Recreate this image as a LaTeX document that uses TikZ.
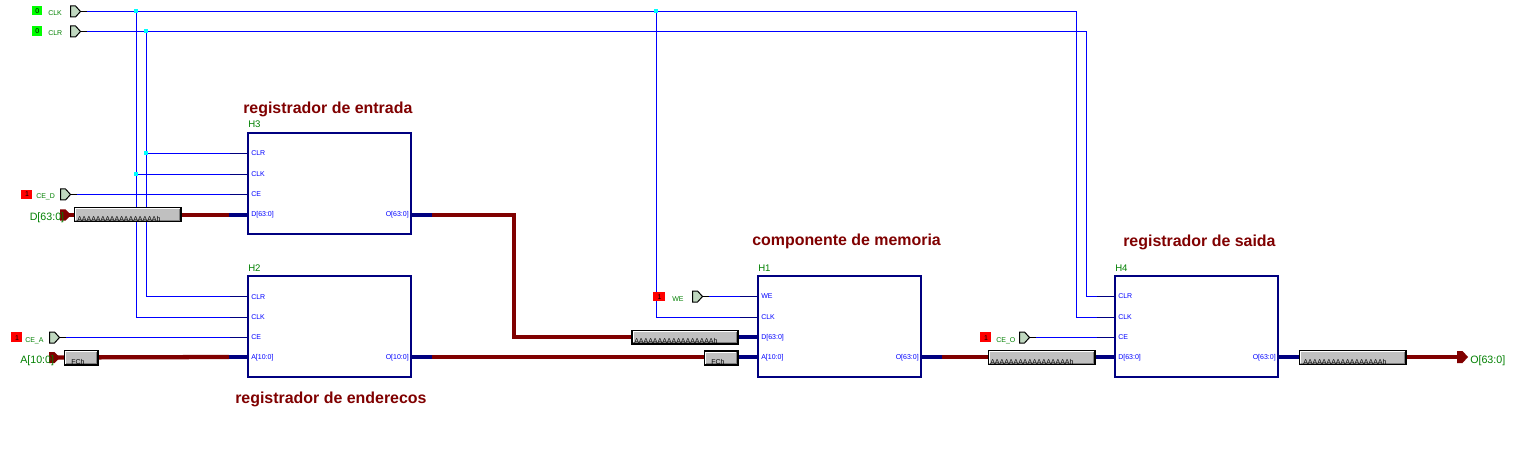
\documentclass[tikz,border=0pt]{standalone}
\usepackage{fontspec}
\setmainfont{Liberation Sans}
\definecolor{busred}{RGB}{128,0,0}
\definecolor{busnavy}{RGB}{0,0,128}
\definecolor{netblue}{RGB}{0,0,255}
\definecolor{pinfill}{RGB}{192,216,192}
\definecolor{labgreen}{RGB}{0,128,0}
\definecolor{jun}{RGB}{0,255,255}
\definecolor{low}{RGB}{0,255,0}
\definecolor{high}{RGB}{255,0,0}
\definecolor{convgray}{RGB}{192,192,192}
\tikzset{
  block/.style={draw=busnavy,line width=1.5pt,inner sep=0pt,outer sep=0pt,minimum width=122.25pt,minimum height=75.75pt,anchor=north west},
  conv/.style={draw=black,line width=.8pt,fill=convgray,inner sep=0pt,outer sep=0pt,anchor=north west},
  pixelgrid/.style={transform canvas={shift={(.375pt,-.375pt)}}},
  net/.style={draw=netblue,line width=.75pt,pixelgrid},
  netstub/.style={draw=busnavy,line width=.75pt,pixelgrid},
  pinstub/.style={draw=black,line width=.75pt,pixelgrid},
  busr/.style={draw=busred,line width=3.2pt},
  busn/.style={draw=busnavy,line width=3.2pt},
  heading/.style={text=busred,font=\fontsize{11.95}{14}\selectfont\bfseries,anchor=base west,inner sep=0pt},
  blockname/.style={text=labgreen,font=\fontsize{7.2}{8}\selectfont,anchor=base west,inner sep=0pt},
  portlab/.style={text=netblue,font=\fontsize{5.25}{6}\selectfont,anchor=base west,inner sep=0pt},
  portlabr/.style={text=netblue,font=\fontsize{5.25}{6}\selectfont,anchor=base east,inner sep=0pt},
  siglab/.style={text=labgreen,font=\fontsize{5.25}{6}\selectfont,anchor=base west,inner sep=0pt},
  buslab/.style={text=labgreen,font=\fontsize{8}{9}\selectfont,anchor=base west,inner sep=0pt},
  val/.style={font=\fontsize{5.25}{6}\selectfont,text=black,inner sep=0pt,anchor=base},
  convtxt/.style={font=\fontsize{5.25}{6}\selectfont,text=black,anchor=base west,inner sep=0pt},
  junction/.style={fill=jun,inner sep=0pt,outer sep=0pt,minimum size=3pt,draw=none},
  sw/.style={inner sep=0pt,outer sep=0pt,draw=none,anchor=north west},
}
% input pin: name, left x, y
\newcommand{\inpin}[3]{%
  \coordinate (#1) at (#2+10,#3);
  \coordinate (#1s) at (#2+16,#3);
  \draw[pinstub] (#1) -- (#1s);
  \filldraw[draw=black,fill=pinfill,line width=.75pt] (#2+.5,#3-5) -- ++(5,0) -- ++(5,5.5) -- ++(-5,5.5) -- ++(-5,0) -- cycle;}
% bus pin: name, left x, y
\newcommand{\buspin}[3]{%
  \fill[busred] (#2,#3-5.5) -- ++(5.5,0) -- ++(5.5,5.5) -- ++(-5.5,5.5) -- ++(-5.5,0) -- cycle;
  \coordinate (#1) at (#2+5,#3);}
% switch box: name, x, y, w, h, colour, value
\newcommand{\swbox}[7]{%
  \node[sw,fill=#6,minimum width=#4*.75pt,minimum height=#5*.75pt] (#1) at (#2,#3) {};
  \node[val] (#1v) at (#2+#4*.55,#3+#5-2) {#7};}
% converter: name, x, y, w, h, text x, text base y, text
\newcommand{\convbox}[8]{%
  \node[conv,minimum width=#4*.75pt-.75pt,minimum height=#5*.75pt-.75pt] (#1) at (#2+.5,#3+.5) {};
  \draw[white,line width=.5pt] (#2+1.8,#3+#5-1.8) -- (#2+1.8,#3+1.8) -- (#2+#4-1.8,#3+1.8);
  \draw[gray,line width=.5pt] (#2+1.8,#3+#5-1.8) -- (#2+#4-1.8,#3+#5-1.8) -- (#2+#4-1.8,#3+1.8);
  \node[convtxt] (#1t) at (#6,#7) {#8};}
\begin{document}
\begin{tikzpicture}[x=.75pt,y=-.75pt]
\useasboundingbox (0,0) rectangle (1524,449);
\fill[white] (0,0) rectangle (1524,449);
\def\AAA{AAAAAAAAAAAAAAAAAh}

% block ports
\foreach \n/\y/\d/\t in {a/153/3/CLR,b/174/2/CLK,c/194/2/CE,d/215/2/D[63:0]}{
  \coordinate (H3\n) at (248,\y);
  \coordinate (H3\n s) at (229,\y);
  \node[portlab] (H3l\n) at (251,\y+\d) {\t};}
\foreach \n/\y/\d/\t in {a/296/3/CLR,b/317/2/CLK,c/337/2/CE,d/357/2/A[10:0]}{
  \coordinate (H2\n) at (248,\y);
  \coordinate (H2\n s) at (229,\y);
  \node[portlab] (H2l\n) at (251,\y+\d) {\t};}
\foreach \n/\y/\d/\t in {a/296/2/WE,b/317/2/CLK,c/337/2/D[63:0],d/357/2/A[10:0]}{
  \coordinate (H1\n) at (758,\y);
  \coordinate (H1\n s) at (739,\y);
  \node[portlab] (H1l\n) at (761,\y+\d) {\t};}
\foreach \n/\y/\d/\t in {a/296/2/CLR,b/317/2/CLK,c/337/2/CE,d/357/2/D[63:0]}{
  \coordinate (H4\n) at (1115,\y);
  \coordinate (H4\n s) at (1096,\y);
  \node[portlab] (H4l\n) at (1118,\y+\d) {\t};}
\node[portlabr] (H3o) at (409,217) {O[63:0]};
\node[portlabr] (H2o) at (409,359) {O[10:0]};
\node[portlabr] (H1o) at (919,359) {O[63:0]};
\node[portlabr] (H4o) at (1276,359) {O[63:0]};
\coordinate (H3out) at (411,215);
\coordinate (H2out) at (411,357);
\coordinate (H1out) at (921,357);
\coordinate (H4out) at (1278,357);
\coordinate (H3outs) at (432,215);
\coordinate (H2outs) at (432,357);
\coordinate (H1outs) at (942,357);
\coordinate (H4outs) at (1299,357);

% pins (their wires start here)
\inpin{pclk}{70}{11}
\inpin{pclr}{70}{31}
\inpin{pced}{60}{194}
\inpin{pcea}{49}{337}
\inpin{pwe}{692}{296}
\inpin{pceo}{1019}{337}

% junction points
\coordinate (wclk1) at (136,11);
\coordinate (wclr1) at (146,31);
\coordinate (wclk2) at (656,11);
\coordinate (wclr3) at (146,153);
\coordinate (wclk3) at (136,174);
\coordinate (rclk) at (1076,11);
\coordinate (rclr) at (1086,31);

% thin nets
\draw[net] (pclks) -- (wclk1) -- (wclk2) -- (rclk) |- (H4bs);
\draw[net] (pclrs) -- (wclr1) -- (rclr) |- (H4as);
\draw[net] (wclk1) |- (H2bs);
\draw[net] (wclr1) |- (H2as);
\draw[net] (wclr3) -- (H3as);
\draw[net] (wclk3) -- (H3bs);
\draw[net] (pceds) -- (H3cs);
\draw[net] (pceas) -- (H2cs);
\draw[net] (pwes) -- (H1as);
\draw[net] (pceos) -- (H4cs);
\draw[net] (wclk2) |- (H1bs);
\foreach \n in {H3a,H3b,H3c,H2a,H2b,H2c,H1a,H1b,H4a,H4b,H4c}{
  \draw[netstub] (\n s) -- (\n);}
\node[junction] (jclk1) at (wclk1) {};
\node[junction] (jclr1) at (wclr1) {};
\node[junction] (jclk2) at (wclk2) {};
\node[junction] (jclr3) at (wclr3) {};
\node[junction] (jclk3) at (wclk3) {};

% bus pins
\buspin{pd}{60}{215}
\buspin{pa}{49}{357.5}
\coordinate (po) at (1457,357);

% buses
\coordinate (bend1) at (514,215);
\coordinate (bend2) at (514,337);
\draw[busr] (pd) -- (H3ds);
\draw[busr] (pa) -- (H2ds);
\draw[busr] (H3outs) -- (bend1) -- (bend2) -- (H1cs);
\draw[busr] (H2outs) -- (H1ds);
\draw[busr] (H1outs) -- (H4ds);
\draw[busr] (H4outs) -- (po);
\foreach \n in {H3d,H2d,H1c,H1d,H4d}{\draw[busn] (\n s) -- (\n);}
\foreach \n in {H3,H2,H1,H4}{\draw[busn] (\n out) -- (\n outs);}
\fill[busred] (1457,351) -- ++(5.5,0) -- ++(5.5,6) -- ++(-5.5,6) -- ++(-5.5,0) -- cycle;

% converters
\convbox{cd}{74}{207}{107.5}{15}{77}{221}{\AAA}
\convbox{ca}{64}{350}{34.5}{15.5}{71}{364}{FCh}
\convbox{cm}{631.5}{330}{107}{14.5}{634}{343.5}{\AAA}
\convbox{cf}{704}{350.5}{34.5}{15}{711}{364}{FCh}
\convbox{cq}{988}{350}{107.5}{15}{990}{364}{\AAA}
\convbox{cr}{1299}{350}{107.5}{15}{1303}{364}{\AAA}

% blocks
\node[block] (H3) at (248,133) {};
\node[block] (H2) at (248,276) {};
\node[block] (H1) at (758,276) {};
\node[block] (H4) at (1115,276) {};
\node[blockname] (nH3) at (248,128) {H3};
\node[blockname] (nH2) at (248,271) {H2};
\node[blockname] (nH1) at (758,271) {H1};
\node[blockname] (nH4) at (1115,271) {H4};

% value boxes
\swbox{v1}{31.5}{6}{10.5}{9.5}{low}{0}
\swbox{v2}{31.5}{26}{10.5}{10}{low}{0}
\swbox{v3}{21}{190}{11}{9}{high}{1}
\swbox{v4}{11}{332}{11}{10}{high}{1}
\swbox{v5}{653}{292}{12}{9}{high}{1}
\swbox{v6}{980}{332}{11}{10}{high}{1}

% signal labels
\node[siglab] (lclk) at (48,16) {CLK};
\node[siglab] (lclr) at (48,36) {CLR};
\node[siglab] (lced) at (36,199) {CE\_D};
\node[siglab] (lcea) at (25,342) {CE\_A};
\node[siglab] (lwe) at (672,301) {WE};
\node[siglab] (lceo) at (996,342) {CE\_O};
\node[buslab] (ld) at (29.5,220) {D[63:0]};
\node[buslab] (la) at (20,363) {A[10:0]};
\node[buslab] (lo) at (1470,363) {O[63:0]};

% headings
\node[heading] (t1) at (243,113.5) {registrador de entrada};
\node[heading] (t2) at (752,245) {componente de memoria};
\node[heading] (t3) at (1123,246.5) {registrador de saida};
\node[heading] (t4) at (235,403) {registrador de enderecos};
\end{tikzpicture}
\end{document}
